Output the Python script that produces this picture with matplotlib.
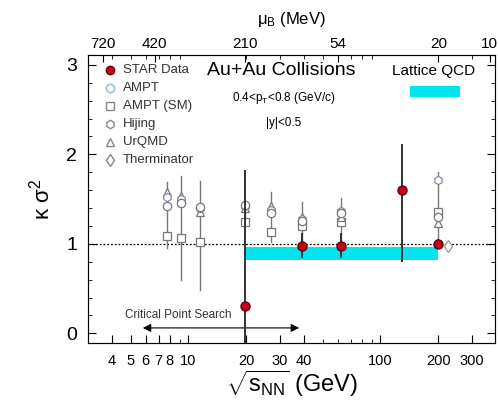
import numpy as np
import matplotlib
matplotlib.use("Agg")
import matplotlib.pyplot as plt
from matplotlib.ticker import FixedLocator, NullFormatter, MultipleLocator

plt.rcParams["font.family"] = ["Liberation Sans", "DejaVu Sans"]
plt.rcParams["mathtext.fontset"] = "custom"
plt.rcParams["mathtext.rm"] = "Liberation Sans"
plt.rcParams["mathtext.it"] = "Liberation Sans:italic"

# STAR data
star_e = [19.6, 39, 62.4, 130, 200]
star_k = [0.31, 0.98, 0.98, 1.60, 1.00]
star_lo = [1.50, 0.14, 0.14, 0.80, 0.05]
star_hi = [1.52, 0.14, 0.14, 0.52, 0.05]

# model clusters
model_e = [7.7, 9.2, 11.5, 19.6, 27, 39, 62.4, 200]
ampt = [1.42, 1.46, 1.41, 1.43, 1.35, 1.25, 1.35, 1.30]
ampt_sm = [1.09, 1.06, 1.02, 1.24, 1.13, 1.20, 1.24, 1.36]
hijing = [1.52, 1.50, 1.40, 1.42, 1.38, 1.28, 1.37, 1.71]
urqmd = [1.58, 1.54, 1.36, 1.40, 1.42, 1.30, 1.30, 1.23]
model_top = [1.69, 1.76, 1.70, 1.45, 1.58, 1.47, 1.51, 1.80]
model_bot = [0.95, 0.60, 0.48, 1.20, 1.02, 1.00, 1.00, 1.00]
therm_e = [225]
therm_k = [0.98]

# lattice band
lat_e = [19.6, 200]
lat_lo = 0.82
lat_hi = 0.97

# tick labels
x_ticks = [4, 5, 6, 7, 8, 10, 20, 30, 40, 100, 200, 300]
mu_labels = ["720", "420", "210", "54", "20", "10"]
mu_pos = [3.58, 6.67, 19.6, 60, 200, 370]

fig = plt.figure(figsize=(4.98, 4.08), dpi=100)
ax = fig.add_axes([0.1767, 0.159, 0.8173, 0.706])
ax.set_xscale("log")
ax.set_xlim(3.0, 395)
ax.set_ylim(-0.11, 3.11)

ax.fill_between(lat_e, lat_lo, lat_hi, color="#00e5ee", lw=0, zorder=1)
ax.axhline(1, color="black", ls=(0, (1.5, 1.5)), lw=0.9, zorder=2)

# model error bars
for e, t, b in zip(model_e, model_top, model_bot):
    ax.plot([e, e], [b, t], color="#777777", lw=1.0, zorder=3)

mk = dict(ls="none", mfc="white", ms=6, mew=0.9, zorder=4)
ax.plot(model_e, ampt_sm, marker="s", mec="#777777", **mk)
ax.plot(model_e, urqmd, marker="^", mec="#777777", **mk)
ax.plot(model_e, hijing, marker="h", mec="#8888aa", **mk)
ax.plot(model_e, ampt, marker="o", mec="#777777", **mk)
ax.plot(therm_e, therm_k, marker="d", mec="#999999", **mk)

ax.errorbar(star_e, star_k, yerr=[star_lo, star_hi], fmt="o", color="#333333",
            mfc="#c8001e", mec="#600000", ms=6.5, elinewidth=1.4, capsize=0,
            zorder=5)

# legend drawn by hand
leg = [("o", "#c8001e", "#600000", "STAR Data"),
       ("o", "white", "#88bbcc", "AMPT"),
       ("s", "white", "#888888", "AMPT (SM)"),
       ("h", "white", "#888888", "Hijing"),
       ("^", "white", "#888888", "UrQMD"),
       ("d", "white", "#888888", "Therminator")]
for i, (m, fc, ec, lab) in enumerate(leg):
    yy = 0.948 - i * 0.0625
    ax.plot([0.055], [yy], marker=m, mfc=fc, mec=ec, ms=6, transform=ax.transAxes,
            clip_on=False, zorder=6)
    ax.text(0.085, yy, lab, transform=ax.transAxes, fontsize=9.5, va="center",
            color="#333333")

ax.text(0.475, 0.945, "Au+Au Collisions", transform=ax.transAxes, fontsize=14,
        ha="center", va="center")
ax.text(0.48, 0.85, r"0.4<p$_{\mathrm{T}}$<0.8 (GeV/c)", transform=ax.transAxes,
        fontsize=8.5, ha="center", va="center")
ax.text(0.48, 0.765, "|y|<0.5", transform=ax.transAxes, fontsize=8.5,
        ha="center", va="center")
ax.text(0.85, 0.945, "Lattice QCD", transform=ax.transAxes, fontsize=11,
        ha="center", va="center")
ax.add_patch(plt.Rectangle((0.79, 0.856), 0.125, 0.035, transform=ax.transAxes,
                           color="#00e5ee", lw=0))

ax.annotate("", xy=(5.6, 0.06), xytext=(39, 0.06),
            arrowprops=dict(arrowstyle="<|-|>", color="black", lw=0.8,
                            mutation_scale=12))
ax.text(8.9, 0.2, "Critical Point Search", fontsize=8.5, ha="center",
        va="center", color="#333333")

ax.xaxis.set_major_locator(FixedLocator(x_ticks))
ax.set_xticklabels([str(t) for t in x_ticks])
ax.xaxis.set_minor_formatter(NullFormatter())
ax.yaxis.set_major_locator(MultipleLocator(1))
ax.yaxis.set_minor_locator(MultipleLocator(0.2))
ax.tick_params(which="both", direction="in", top=False, right=True)
ax.tick_params(which="major", length=6)
ax.tick_params(axis="y", which="major", labelsize=14, pad=8)
ax.tick_params(axis="x", which="major", labelsize=10.5, pad=8)
ax.tick_params(which="minor", length=3)
for s in ax.spines.values():
    s.set_color("#444444")

ax2 = ax.twiny()
ax2.set_xscale("log")
ax2.set_xlim(ax.get_xlim())
ax2.xaxis.set_major_locator(FixedLocator(mu_pos))
ax2.set_xticklabels(mu_labels)
ax2.xaxis.set_minor_formatter(NullFormatter())
ax2.tick_params(which="both", direction="in", labelsize=11, pad=3)
ax2.tick_params(which="major", length=5)
ax2.tick_params(which="minor", length=3)
ax2.set_xlabel(r"$\mathrm{\mu}_{\mathrm{B}}$ (MeV)", fontsize=12, labelpad=9)

ax.set_xlabel(r"$\sqrt{\mathrm{s}_{\mathrm{NN}}}$ (GeV)", fontsize=17, labelpad=0)
ax.set_ylabel(r"$\mathrm{\kappa\ \sigma^2}$", fontsize=16, labelpad=8)

fig.savefig("out.png", dpi=100)
